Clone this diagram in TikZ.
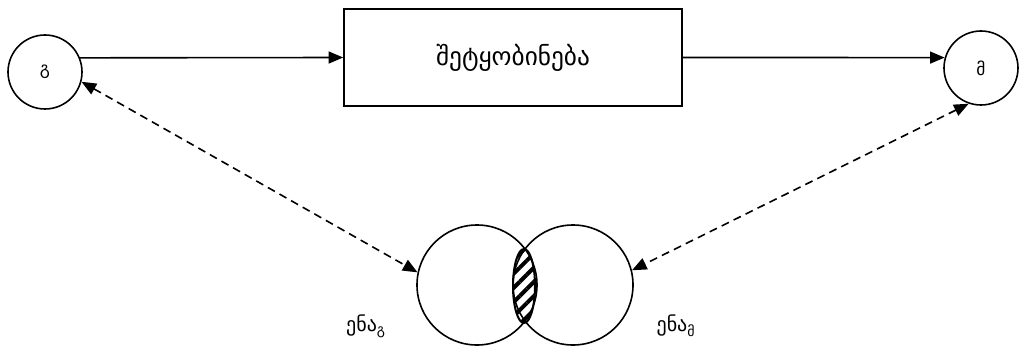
\documentclass[tikz,border=0pt]{standalone}
\usepackage{fontspec}
\setmainfont{DejaVu Sans}
\usetikzlibrary{arrows.meta,positioning,patterns.meta,shapes.geometric}

\begin{document}
\begin{tikzpicture}[
        x=0.75pt, y=-0.75pt,
        line width=1.2pt,
        font=\fontsize{15}{18}\selectfont,
        party/.style={draw, circle, minimum size=55.5pt, inner sep=0pt, font=\fontsize{13}{15}\selectfont},
        box/.style={draw, minimum width=253.5pt, minimum height=72.5pt, font=\fontsize{19}{22}\selectfont},
        lang/.style={draw, circle, minimum size=90pt, inner sep=0pt},
        common/.style={draw, ellipse, minimum width=16.5pt, minimum height=55.5pt, inner sep=0pt, line width=1.5pt,
            pattern={Lines[angle=45, distance=7.5pt, line width=3pt]}},
        arr/.style={-{Triangle[length=11pt, width=9pt]}},
        darr/.style={{Triangle[length=11pt, width=9pt]}-{Triangle[length=11pt, width=9pt]}, dashed, dash pattern=on 6pt off 4pt}
    ]
        \useasboundingbox (0,0) rectangle (1021,349);
        \node[party] (snd) at (45,72) {გ};
        \node[party] (rcv) at (981,68) {მ};
        \node[box] (msg) at (513,57.5) {შეტყობინება};
        \draw[arr] (snd.22) -- (msg.west);
        \draw[arr] (msg.east) -- (rcv.164);

        \node[lang] (lsnd) at (477,285) {};
        \node[lang] (lrcv) at (573,285) {};
        \node[common] (both) at (524,286) {};
        \node (tsnd) at (366,326) {ენა\textsubscript{გ}};
        \node (trcv) at (676,326) {ენა\textsubscript{მ}};

        \draw[darr] (snd.-15) -- (lsnd.168);
        \draw[darr] (rcv.-109) -- (lrcv.14);
    \end{tikzpicture}
\end{document}
